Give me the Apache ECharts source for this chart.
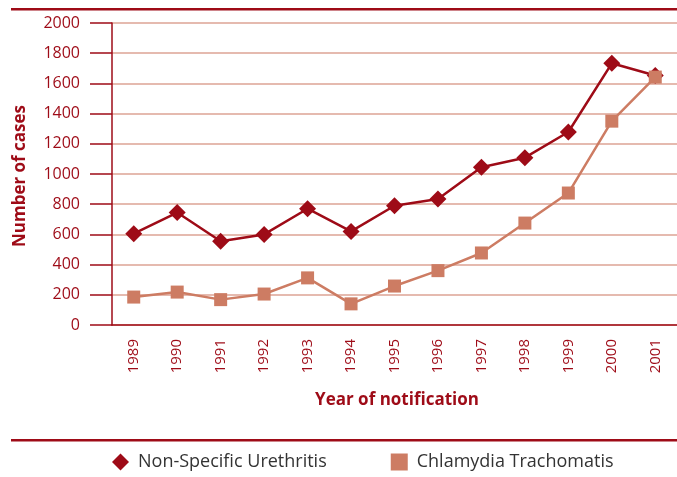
<!DOCTYPE html>
<html>
<head>
<meta charset="utf-8">
<script src="https://cdn.jsdelivr.net/npm/echarts@6/dist/echarts.min.js"></script>
<style>
  html, body { margin: 0; padding: 0; background: #fff; }
  #chart { width: 677px; height: 477px; }
</style>
</head>
<body>
<div id="chart"></div>
<script>
var years = ["1989", "1990", "1991", "1992", "1993", "1994", "1995", "1996", "1997", "1998", "1999", "2000", "2001"];
var nsu = [605, 745, 555, 600, 770, 620, 790, 835, 1045, 1108, 1278, 1733, 1652];
var ct = [185, 218, 168, 205, 312, 140, 258, 360, 477, 675, 874, 1350, 1642];

var dark = "#9e0b17";
var salmon = "#cd7c63";
var grid = "#dca394";
var font = "Open Sans";

var chart = echarts.init(document.getElementById("chart"));
chart.setOption({
    animation: false,
    textStyle: { fontFamily: font },
    grid: { left: 112, top: 23, right: -1, bottom: 152 },
    graphic: [
        { type: "rect", shape: { x: 11, y: 8, width: 666, height: 2.5 }, style: { fill: dark } },
        { type: "rect", shape: { x: 11, y: 439, width: 666, height: 2.5 }, style: { fill: dark } },
        { type: "text", x: 20, y: 176, rotation: Math.PI / 2,
          style: { text: "Number of cases", fill: dark, font: "bold 17px " + font, textAlign: "center", textVerticalAlign: "middle" } },
        { type: "text", x: 397, y: 400,
          style: { text: "Year of notification", fill: dark, font: "bold 17px " + font, textAlign: "center", textVerticalAlign: "middle" } }
    ],
    legend: {
        left: 107, top: 448,
        itemWidth: 17, itemHeight: 17, itemGap: 64,
        textStyle: { color: "#333", fontSize: 18, fontFamily: font, padding: [0, 0, 0, 4] },
        data: [
            { name: "Non-Specific Urethritis", icon: "diamond" },
            { name: "Chlamydia Trachomatis", icon: "rect" }
        ]
    },
    xAxis: {
        type: "category",
        data: years,
        boundaryGap: true,
        axisLine: { lineStyle: { color: dark, width: 1.5 } },
        axisTick: { length: 22, interval: 0, lineStyle: { color: dark, width: 1.5 } },
        axisLabel: { rotate: 90, interval: 0, margin: 14, color: dark, fontSize: 15 }
    },
    yAxis: {
        type: "value",
        min: 0, max: 2000, interval: 200,
        axisLine: { show: true, lineStyle: { color: dark, width: 1.5 } },
        axisTick: { show: true, inside: false, length: 22, lineStyle: { color: dark, width: 1.5 } },
        axisLabel: { margin: 32, color: dark, fontSize: 16, formatter: function (v) { return String(v); } },
        splitLine: { lineStyle: { color: grid, width: 1.5 } }
    },
    series: [
        {
            name: "Non-Specific Urethritis", type: "line", data: nsu,
            symbol: "diamond", symbolSize: 17,
            lineStyle: { color: dark, width: 2.5 },
            itemStyle: { color: dark }
        },
        {
            name: "Chlamydia Trachomatis", type: "line", data: ct,
            symbol: "rect", symbolSize: 13,
            lineStyle: { color: salmon, width: 2.5 },
            itemStyle: { color: salmon }
        }
    ]
});
</script>
</body>
</html>
